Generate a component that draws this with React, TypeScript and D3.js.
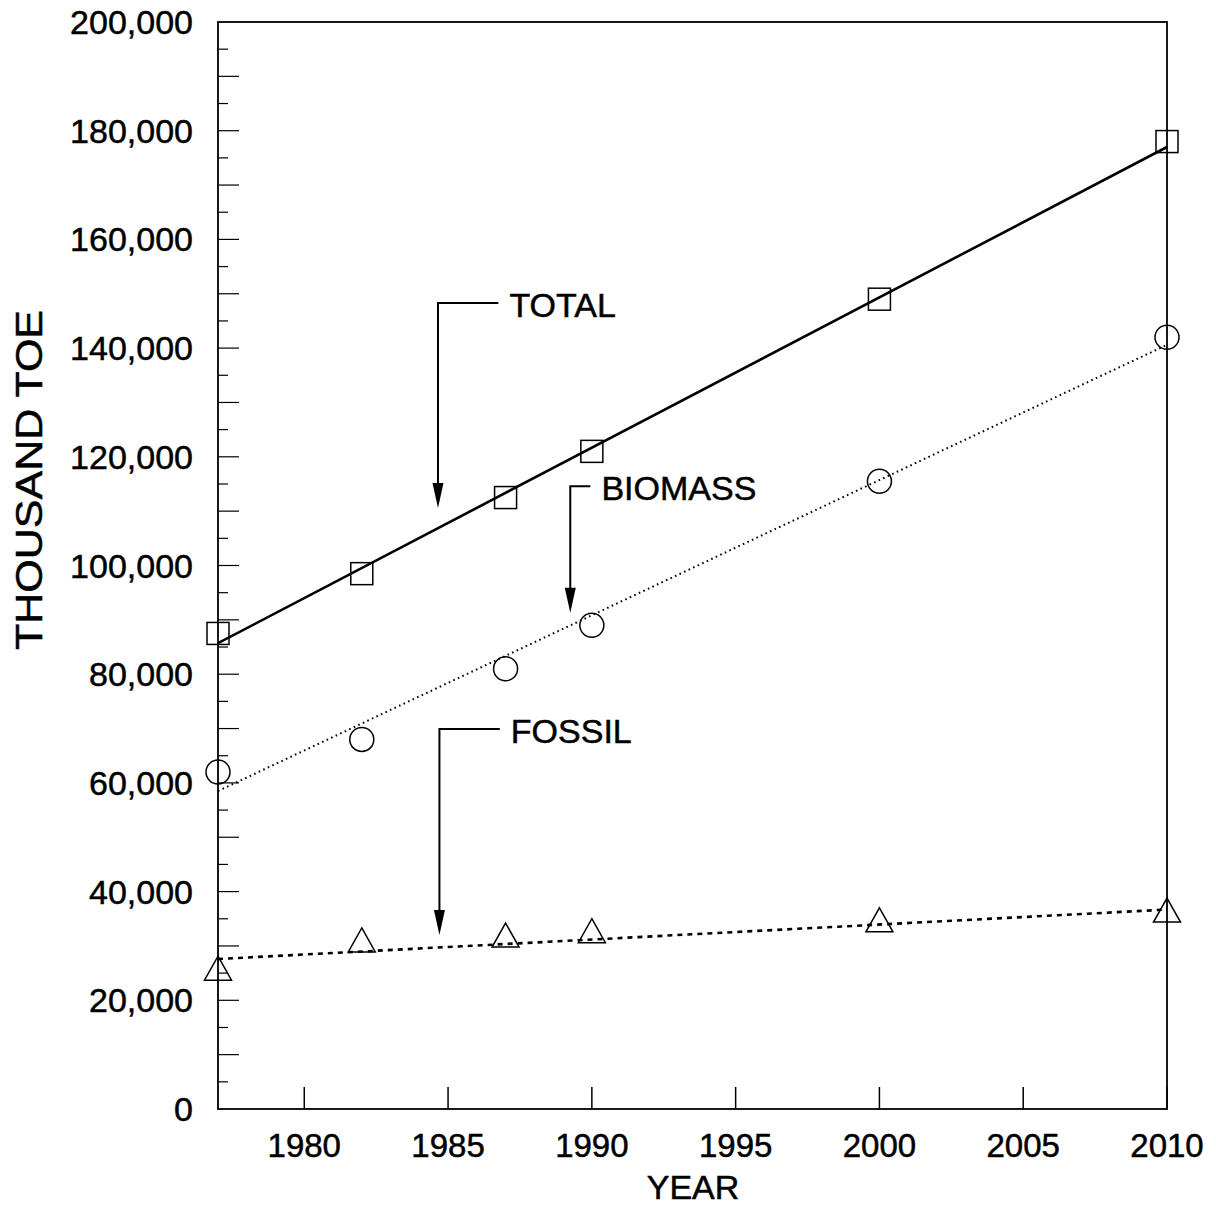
import React, { useEffect, useRef } from 'react';
import * as d3 from 'd3';

const years = [1977, 1982, 1987, 1990, 2000, 2010];
const total = [87500, 98500, 112500, 121000, 149000, 178000];
const biomass = [62000, 68000, 81000, 89000, 115500, 142000];
const fossil = [25900, 31100, 32000, 32800, 34800, 36600];

// fitted trend lines at both ends
const trendYears = [1977, 2010];
const totalTrend = [85700, 177000];
const biomassTrend = [58500, 140600];
const fossilTrend = [27600, 36700];

const xTicks = [1980, 1985, 1990, 1995, 2000, 2005, 2010];
const yLabels = [0, 20000, 40000, 60000, 80000, 100000, 120000, 140000, 160000, 180000, 200000];

const notes = [
  { label: 'TOTAL', x: 1984.65, xEnd: 1986.75, top: 148300, tip: 110600 },
  { label: 'BIOMASS', x: 1989.25, xEnd: 1989.95, top: 114600, tip: 91300 },
  { label: 'FOSSIL', x: 1984.7, xEnd: 1986.8, top: 69900, tip: 32000 },
];

const W = 1216, H = 1208;
const margin = { top: 22, right: 49, bottom: 99, left: 218 };
const font = '"Liberation Sans", Arial, Helvetica, sans-serif';

function draw(el: SVGSVGElement) {
  const svg = d3.select(el);
  svg.selectAll('*').remove();

  const x = d3.scaleLinear().domain([1977, 2010]).range([margin.left, W - margin.right]);
  const y = d3.scaleLinear().domain([0, 200000]).range([H - margin.bottom, margin.top]);

  const g = svg.append('g').attr('font-family', font).attr('fill', '#000');
  // scanned type is a touch heavier than Liberation Sans
  const txt = g.append('g').attr('stroke', '#000').attr('stroke-width', 0.5);

  // frame
  g.append('rect')
    .attr('x', x(1977)).attr('y', y(200000))
    .attr('width', x(2010) - x(1977)).attr('height', y(0) - y(200000))
    .attr('fill', 'none').attr('stroke', '#000').attr('stroke-width', 1.8);

  // y ticks, inward
  const yMinor = d3.range(5000, 200000, 5000);
  g.append('g').selectAll('line').data(yMinor).join('line')
    .attr('x1', x(1977)).attr('x2', d => x(1977) + (d % 10000 === 0 ? 21 : 10))
    .attr('y1', d => y(d)).attr('y2', d => y(d))
    .attr('stroke', '#000').attr('stroke-width', 1.2);

  txt.append('g').selectAll('text').data(yLabels).join('text')
    .attr('x', 193).attr('y', d => y(d) + 12)
    .attr('text-anchor', 'end').attr('font-size', 34)
    .text(d => d3.format(',')(d));

  // x ticks, inward
  g.append('g').selectAll('line').data(xTicks).join('line')
    .attr('x1', d => x(d)).attr('x2', d => x(d))
    .attr('y1', y(0)).attr('y2', y(0) - 22)
    .attr('stroke', '#000').attr('stroke-width', 1.5);

  txt.append('g').selectAll('text').data(xTicks).join('text')
    .attr('x', d => x(d)).attr('y', 1157)
    .attr('text-anchor', 'middle').attr('font-size', 33)
    .text(d => d);

  txt.append('text')
    .attr('x', 693).attr('y', 1199)
    .attr('text-anchor', 'middle').attr('font-size', 34)
    .text('YEAR');

  txt.append('text')
    .attr('transform', `translate(42,480) rotate(-90)`)
    .attr('text-anchor', 'middle').attr('font-size', 36)
    .attr('textLength', 340).attr('lengthAdjust', 'spacingAndGlyphs')
    .text('THOUSAND TOE');

  // trend lines
  const line = d3.line<number>().x((_, i) => x(trendYears[i])).y(d => y(d));
  g.append('path').attr('d', line(totalTrend))
    .attr('fill', 'none').attr('stroke', '#000').attr('stroke-width', 2.6);
  g.append('path').attr('d', line(biomassTrend))
    .attr('fill', 'none').attr('stroke', '#000').attr('stroke-width', 2)
    .attr('stroke-dasharray', '1.6,3.4');
  g.append('path').attr('d', line(fossilTrend))
    .attr('fill', 'none').attr('stroke', '#000').attr('stroke-width', 2.6)
    .attr('stroke-dasharray', '5,5');

  // markers
  const mk = g.append('g').attr('fill', 'none').attr('stroke', '#000').attr('stroke-width', 1.5);
  mk.selectAll('rect').data(years).join('rect')
    .attr('x', (d) => x(d) - 11).attr('y', (_, i) => y(total[i]) - 11)
    .attr('width', 22).attr('height', 22);
  mk.selectAll('circle').data(years).join('circle')
    .attr('cx', d => x(d)).attr('cy', (_, i) => y(biomass[i])).attr('r', 12);
  mk.selectAll('path').data(years).join('path')
    .attr('d', (d, i) => {
      const cx = x(d), cy = y(fossil[i]);
      return `M${cx},${cy - 12}L${cx + 13.5},${cy + 12}L${cx - 13.5},${cy + 12}Z`;
    });

  // callouts
  const ann = g.append('g').selectAll('g').data(notes).join('g');
  ann.append('path')
    .attr('d', d => `M${x(d.xEnd)},${y(d.top)}H${x(d.x)}V${y(d.tip) - 22}`)
    .attr('fill', 'none').attr('stroke', '#000').attr('stroke-width', 2);
  ann.append('path')
    .attr('d', d => {
      const ax = x(d.x), ay = y(d.tip);
      return `M${ax},${ay}L${ax - 5.5},${ay - 25}L${ax + 5.5},${ay - 25}Z`;
    })
    .attr('fill', '#000');
  ann.append('text')
    .attr('x', d => x(d.xEnd) + 11).attr('y', d => y(d.top) + 14)
    .attr('font-size', 34)
    .attr('stroke', '#000').attr('stroke-width', 0.5)
    .text(d => d.label);
}

export default function App() {
  const ref = useRef<SVGSVGElement>(null);

  useEffect(() => {
    if (ref.current) draw(ref.current);
  }, []);

  return (
    <svg
      ref={ref}
      width={W}
      height={H}
      style={{ position: 'absolute', left: 0, top: 0, background: '#fff' }}
    />
  );
}
